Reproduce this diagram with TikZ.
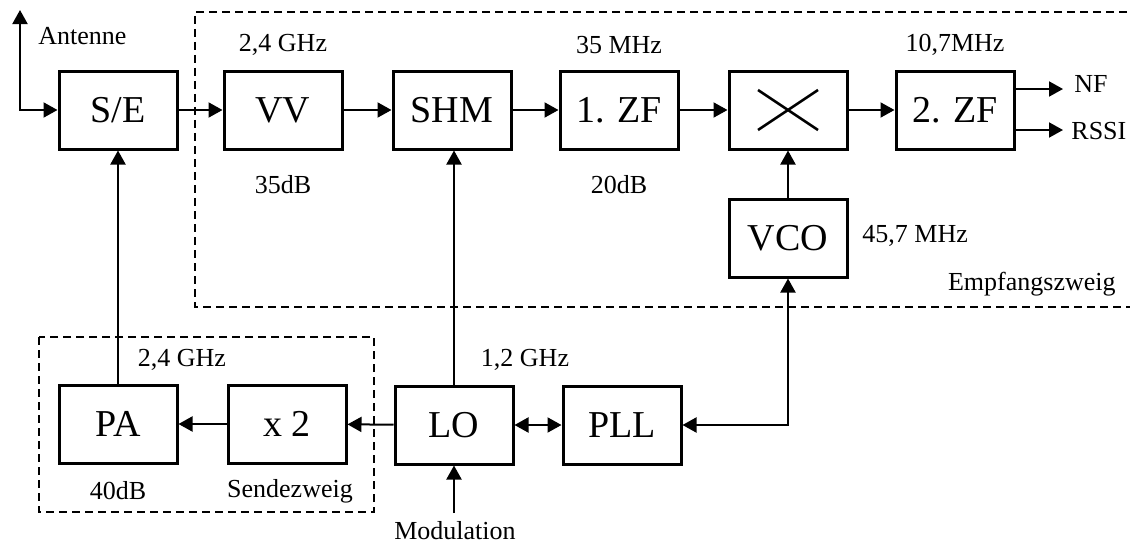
\documentclass[tikz,border=0pt]{standalone}
\usepackage{fontspec}
\setmainfont{Liberation Serif}
\usepackage{tikz}
\usetikzlibrary{arrows.meta,calc}

\tikzset{
  blk/.style={draw,line width=1.5pt,minimum width=59pt,minimum height=39pt,inner sep=0pt,font=\fontsize{19}{22}\selectfont},
  lbl/.style={font=\fontsize{13}{15}\selectfont,inner sep=0pt},
  sig/.style={line width=1pt,-{Triangle[length=7pt,width=7.5pt]}},
  bsig/.style={line width=1pt,{Triangle[length=7pt,width=7.5pt]}-{Triangle[length=7pt,width=7.5pt]}},
  zweig/.style={line width=0.8pt,dash pattern=on 4pt off 2.5pt}
}

\begin{document}
\begin{tikzpicture}[x=0.5pt,y=-0.5pt]
			\useasboundingbox (0,0) rectangle (1130,546);
			% Zweige (rechter Rand liegt ausserhalb)
			\draw[zweig] (1140,12) -- (195,12) -- (195,307) -- (1140,307);
			\draw[zweig] (39,337) rectangle (374,512);
			% Empfangszweig
			\node[blk] (se) at (118,110) {S/E};
			\node[blk] (vv) at (283,110) {VV};
			\node[blk] (shm) at (452,110) {SHM};
			\node[blk] (zf1) at (619,110) {1. ZF};
			\node[blk] (mix) at (788,110) {};
			\node[blk] (zf2) at (955,110) {2. ZF};
			\node[blk] (vco) at (788,238) {VCO};
			\draw[line width=1.3pt] ($(mix.center)+(-30,-20)$) -- ($(mix.center)+(30,20)$);
			\draw[line width=1.3pt] ($(mix.center)+(-30,20)$) -- ($(mix.center)+(30,-20)$);
			% Sendezweig
			\node[blk] (pa) at (118,424) {PA};
			\node[blk] (x2) at (287,424) {x 2};
			\node[blk] (lo) at (454,425) {LO};
			\node[blk] (pll) at (622,425) {PLL};
			% freie Enden
			\coordinate (ant) at (20,10);
			\coordinate (nf) at (1063,89);
			\coordinate (rssi) at (1063,130);
			\coordinate (mod) at (454,513);
			% Verbindungen
			\draw[bsig] (ant) |- (se.west);
			\draw[sig] (se) -- (vv);
			\draw[sig] (vv) -- (shm);
			\draw[sig] (shm) -- (zf1);
			\draw[sig] (zf1) -- (mix);
			\draw[sig] (mix) -- (zf2);
			\draw[sig] (vco) -- (mix);
			\draw[sig] (zf2.east |- nf) -- (nf);
			\draw[sig] (zf2.east |- rssi) -- (rssi);
			\draw[sig] (pa) -- (se);
			\draw[sig] (x2) -- (pa);
			\draw[sig] (lo) -- (x2);
			\draw[sig] (lo) -- (lo |- shm.south);
			\draw[bsig] (lo) -- (pll);
			\draw[bsig] (vco.south) |- (pll.east);
			\draw[sig] (mod) -- (lo);
			% Beschriftungen
			\node[lbl,anchor=west] at (38,36) {Antenne};
			\node[lbl] at (283,45) {2,4 GHz};
			\node[lbl] at (619,45) {35 MHz};
			\node[lbl] at (955,45) {10,7MHz};
			\node[lbl] at (283,185) {35dB};
			\node[lbl] at (619,185) {20dB};
			\node[lbl,anchor=west] at (1074,84) {NF};
			\node[lbl,anchor=west] at (1071,131) {RSSI};
			\node[lbl,anchor=west] at (862,236) {45,7 MHz};
			\node[lbl,anchor=east] at (1116,284) {Empfangszweig};
			\node[lbl] at (182,360) {2,4 GHz};
			\node[lbl] at (525,360) {1,2 GHz};
			\node[lbl] at (118,491) {40dB};
			\node[lbl] at (290,491) {Sendezweig};
			\node[lbl] at (455,531) {Modulation};
		\end{tikzpicture}
\end{document}
